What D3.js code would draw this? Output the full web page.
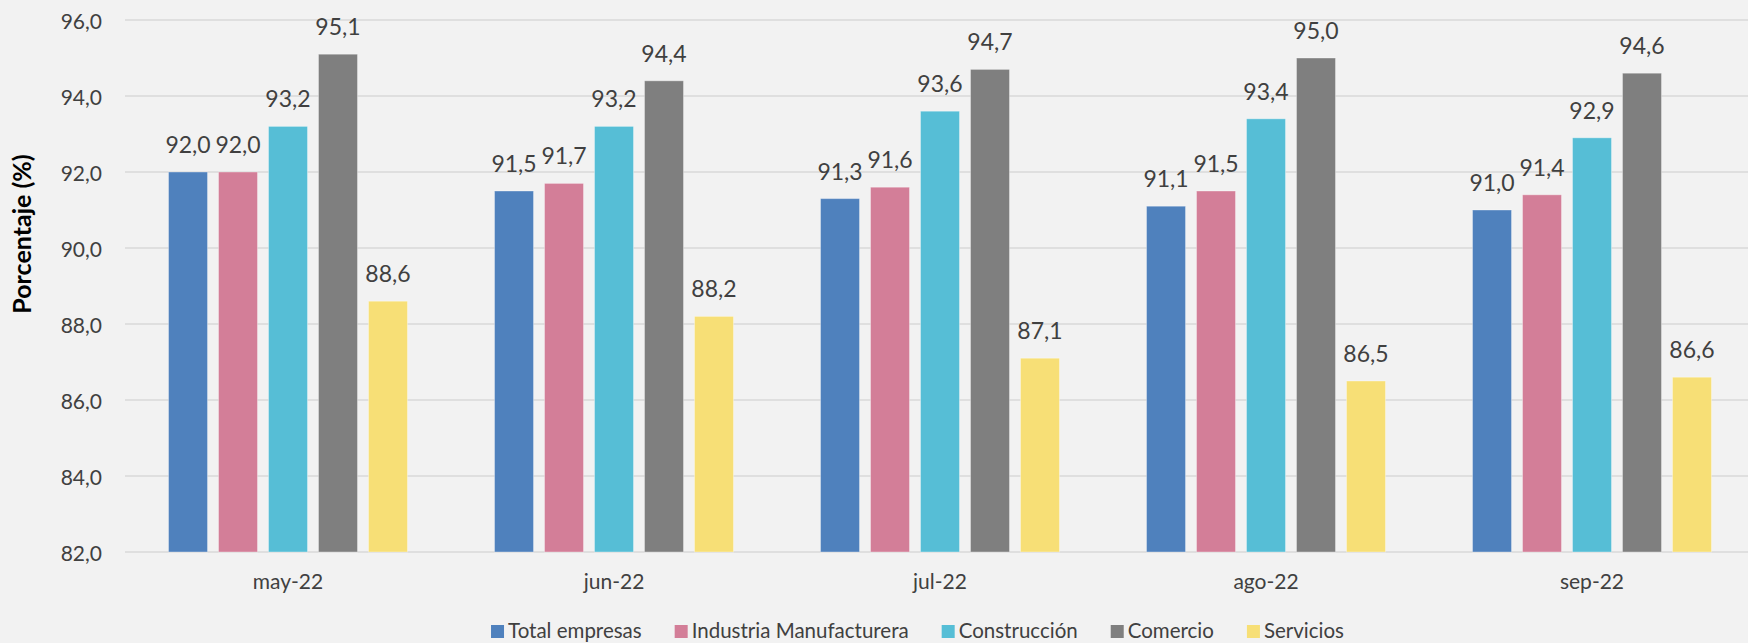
<!DOCTYPE html>
<html>
<head>
<meta charset="utf-8">
<script src="https://cdn.jsdelivr.net/npm/d3@7"></script>
<style>
  html, body { margin: 0; padding: 0; background: #F2F2F2; }
  svg { display: block; font-family: Lato, "Noto Sans", sans-serif; }
</style>
</head>
<body>
<svg id="chart" width="1748" height="643"></svg>
<script>
const months = ["may-22", "jun-22", "jul-22", "ago-22", "sep-22"];
const seriesNames = ["Total empresas", "Industria Manufacturera", "Construcción", "Comercio", "Servicios"];
const seriesColors = ["#4F81BD", "#D37E98", "#56BED6", "#7F7F7F", "#F7DF76"];
const totalEmpresas = [92.0, 91.5, 91.3, 91.1, 91.0];
const industria = [92.0, 91.7, 91.6, 91.5, 91.4];
const construccion = [93.2, 93.2, 93.6, 93.4, 92.9];
const comercio = [95.1, 94.4, 94.7, 95.0, 94.6];
const servicios = [88.6, 88.2, 87.1, 86.5, 86.6];
const yTicks = [82, 84, 86, 88, 90, 92, 94, 96];
const yTitle = "Porcentaje (%)";

(function () {
const values = [totalEmpresas, industria, construccion, comercio, servicios];
const W = 1748, H = 643;
const mLeft = 125, mRight = 1755, mTop = 20, mBottom = 552;
const svg = d3.select("#chart");
const fmt = v => d3.format(".1f")(v).replace(".", ",");
const textColor = "#404040";

const y = d3.scaleLinear().domain([82, 96]).range([mBottom, mTop]);
const x0 = d3.scaleBand().domain(months).range([mLeft, mRight]).paddingInner(0.267).paddingOuter(0.1335);
const x1 = d3.scaleBand().domain(seriesNames).range([0, x0.bandwidth()]).paddingInner(0.22);

// gridlines
svg.append("g").selectAll("line").data(yTicks).join("line")
  .attr("x1", mLeft).attr("x2", W)
  .attr("y1", d => y(d)).attr("y2", d => y(d))
  .attr("stroke", "#D9D9D9").attr("stroke-width", 1.5);

// y tick labels via axis
const yAxis = svg.append("g").attr("transform", `translate(${mLeft},0)`)
  .call(d3.axisLeft(y).tickValues(yTicks).tickFormat(fmt).tickSize(0).tickPadding(23));
yAxis.select(".domain").remove();
yAxis.selectAll("text").attr("font-size", 21).attr("fill", textColor)
  .attr("font-family", "Lato, sans-serif").attr("dy", "0.4em");

// bars
const rows = months.map((m, i) => ({ m, i }));
const groups = svg.append("g").selectAll("g").data(rows).join("g")
  .attr("transform", d => `translate(${x0(d.m)},0)`);
groups.selectAll("rect").data(d => seriesNames.map((s, k) => ({ s, k, v: values[k][d.i] }))).join("rect")
  .attr("x", d => x1(d.s)).attr("width", x1.bandwidth())
  .attr("y", d => y(d.v)).attr("height", d => y(82) - y(d.v))
  .attr("fill", d => seriesColors[d.k])
  .attr("stroke", "rgba(255,255,255,0.35)").attr("stroke-width", 1);
groups.selectAll("text").data(d => seriesNames.map((s, k) => ({ s, k, v: values[k][d.i] }))).join("text")
  .attr("x", d => x1(d.s) + x1.bandwidth() / 2)
  .attr("y", d => y(d.v) - 19)
  .attr("text-anchor", "middle").attr("font-size", 23).attr("fill", textColor)
  .text(d => fmt(d.v));

// x axis labels
const xAxis = svg.append("g").attr("transform", `translate(0,${mBottom})`)
  .call(d3.axisBottom(x0).tickSize(0).tickPadding(22));
xAxis.select(".domain").remove();
xAxis.selectAll("text").attr("font-size", 21).attr("fill", textColor).attr("font-family", "Lato, sans-serif");

// y title
svg.append("text")
  .attr("transform", "translate(31,234) rotate(-90)")
  .attr("text-anchor", "middle").attr("font-size", 25).attr("font-weight", "bold")
  .attr("fill", "#000").text(yTitle);

// legend
const leg = svg.append("g");
const items = leg.selectAll("g").data(seriesNames).join("g");
items.append("rect").attr("width", 13).attr("height", 13).attr("y", 625)
  .attr("fill", (d, i) => seriesColors[i]);
items.append("text").attr("x", 17).attr("y", 638).attr("font-size", 20.5).attr("fill", textColor).text(d => d);
let cx = 0;
const gap = 33;
const offs = [];
items.each(function () {
  const t = d3.select(this).select("text").node().getComputedTextLength();
  offs.push(cx);
  cx += 17 + t + gap;
});
const totalW = cx - gap;
const start = 917.5 - totalW / 2;
items.attr("transform", (d, i) => `translate(${start + offs[i]},0)`);
})();
</script>
</body>
</html>
